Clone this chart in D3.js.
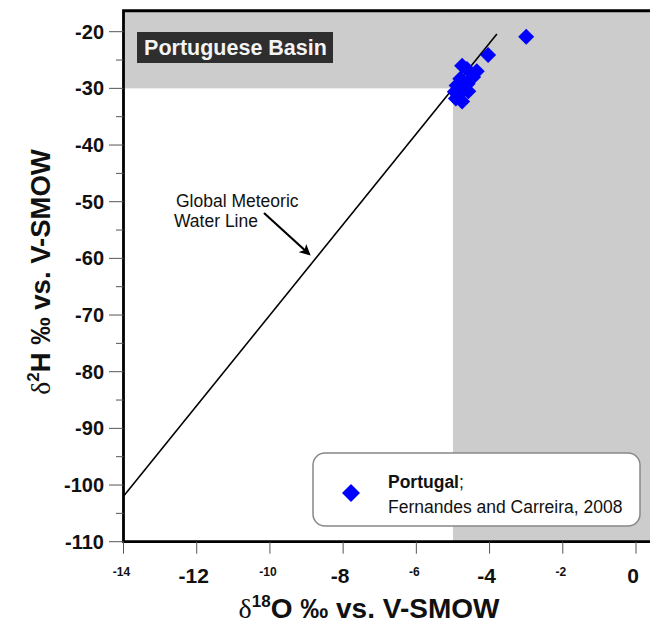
<!DOCTYPE html>
<html>
<head>
<meta charset="utf-8">
<script src="https://cdn.jsdelivr.net/npm/d3@7"></script>
<style>
  html, body { margin: 0; padding: 0; background: #fff; }
  svg { display: block; }
  text { font-family: "Liberation Sans", Arial, sans-serif; }
</style>
</head>
<body>
<svg id="chart" width="650" height="627"></svg>
<script>
// Portuguese Basin groundwater isotopes (Fernandes and Carreira, 2008)
const d18O = [-3.0, -4.04, -4.75, -4.62, -4.35, -4.45, -4.8, -4.6, -4.9, -4.7, -4.95, -4.85, -4.92, -4.75, -4.58];
const d2H  = [-20.9, -24.1, -26.0, -26.6, -27.0, -28.0, -28.3, -29.2, -29.5, -30.0, -30.6, -31.2, -31.8, -32.3, -30.5];

const xTicks = [-14, -12, -10, -8, -6, -4, -2, 0];
const xTickBig = [-12, -8, -4, 0];
const yTicks = [-20, -30, -40, -50, -60, -70, -80, -90, -100, -110];
const yMinor = [-25, -35, -45, -55, -65, -75, -85, -95, -105];

// Global Meteoric Water Line: d2H = 8 * d18O + 10
const gmwlSlope = 8, gmwlIntercept = 10;
const gmwlRange = [-14, -3.8];

// Shaded windows: d2H above -30 and d18O above -5
const shadeH = -30, shadeO = -5;

const svg = d3.select("#chart");
const x = d3.scaleLinear().domain([-14, 0]).range([123.5, 636]);
const y = d3.scaleLinear().domain([-110, -20]).range([541.7, 31.7]);
const xMin = -14, xMax = 1.2, yMin = -110, yMax = -16.3;

const plot = svg.append("g");

// shaded areas
plot.append("rect")
  .attr("x", x(xMin)).attr("y", y(yMax))
  .attr("width", x(xMax) - x(xMin)).attr("height", y(shadeH) - y(yMax))
  .attr("fill", "#cccccc");
plot.append("rect")
  .attr("x", x(shadeO)).attr("y", y(yMax))
  .attr("width", x(xMax) - x(shadeO)).attr("height", y(yMin) - y(yMax))
  .attr("fill", "#cccccc");

// GMWL
plot.append("line")
  .attr("x1", x(gmwlRange[0])).attr("y1", y(gmwlSlope * gmwlRange[0] + gmwlIntercept))
  .attr("x2", x(gmwlRange[1])).attr("y2", y(gmwlSlope * gmwlRange[1] + gmwlIntercept))
  .attr("stroke", "#000").attr("stroke-width", 1.6);

// annotation
const ann = svg.append("g");
ann.append("text").attr("x", 176).attr("y", 207)
  .attr("font-size", 17.5).attr("fill", "#111").text("Global Meteoric");
ann.append("text").attr("x", 174).attr("y", 227)
  .attr("font-size", 17.5).attr("fill", "#111").text("Water Line");
svg.append("defs").append("marker")
  .attr("id", "arrow").attr("viewBox", "0 0 10 10").attr("refX", 8).attr("refY", 5)
  .attr("markerWidth", 5).attr("markerHeight", 5).attr("orient", "auto")
  .append("path").attr("d", "M0,0 L10,5 L0,10 L2.5,5 Z").attr("fill", "#000");
ann.append("line").attr("x1", 264).attr("y1", 213).attr("x2", 309).attr("y2", 254)
  .attr("stroke", "#000").attr("stroke-width", 2.2).attr("marker-end", "url(#arrow)");

// data points
const diamond = s => `M0,${-s}L${s},0L0,${s}L${-s},0Z`;
plot.selectAll(".pt").data(d18O.map((v, i) => [v, d2H[i]])).join("path")
  .attr("class", "pt")
  .attr("d", diamond(8))
  .attr("transform", d => `translate(${x(d[0])},${y(d[1])})`)
  .attr("fill", "#0000ff");

// frame
svg.append("path")
  .attr("d", `M${x(xMax)},${y(yMax)} L${x(xMin)},${y(yMax)} L${x(xMin)},${y(yMin)} L${x(xMax)},${y(yMin)}`)
  .attr("fill", "none").attr("stroke", "#000").attr("stroke-width", 2.8);

// y axis ticks + labels
const yAx = svg.append("g");
yAx.selectAll(".maj").data(yTicks).join("line")
  .attr("x1", 109).attr("x2", x(xMin)).attr("y1", d => y(d)).attr("y2", d => y(d))
  .attr("stroke", "#555").attr("stroke-width", 1);
yAx.selectAll(".min").data(yMinor).join("line")
  .attr("x1", 116).attr("x2", x(xMin)).attr("y1", d => y(d)).attr("y2", d => y(d))
  .attr("stroke", "#555").attr("stroke-width", 1);
yAx.selectAll("text").data(yTicks).join("text")
  .attr("x", 104).attr("y", d => y(d) + 7).attr("text-anchor", "end")
  .attr("font-size", 20).attr("font-weight", "bold").attr("fill", "#111").text(d => d);

// x axis ticks + labels
const xAx = svg.append("g");
xAx.selectAll("line").data(xTicks).join("line")
  .attr("x1", d => x(d)).attr("x2", d => x(d)).attr("y1", y(yMin)).attr("y2", y(yMin) + 12)
  .attr("stroke", "#555").attr("stroke-width", 1);
xAx.selectAll("text").data(xTicks).join("text")
  .attr("x", d => x(d) - (xTickBig.includes(d) ? 3 : 2)).attr("y", d => xTickBig.includes(d) ? 583 : 576)
  .attr("text-anchor", "middle").attr("font-weight", "bold").attr("fill", "#111")
  .attr("font-size", d => xTickBig.includes(d) ? 21 : 12)
  .text(d => d);

// axis titles
const xt = svg.append("text").attr("x", 369).attr("y", 618).attr("text-anchor", "middle")
  .attr("font-size", 28).attr("font-weight", "bold").attr("fill", "#111");
xt.append("tspan").attr("font-family", "Liberation Serif, serif").attr("font-weight", "normal").text("δ");
xt.append("tspan").attr("font-size", 17).attr("dy", -11).text("18");
xt.append("tspan").attr("dy", 11).text("O ‰ vs. V-SMOW");

const yt = svg.append("text").attr("transform", "translate(50,272) rotate(-90)").attr("text-anchor", "middle")
  .attr("font-size", 27.5).attr("font-weight", "bold").attr("fill", "#111");
yt.append("tspan").attr("font-family", "Liberation Serif, serif").attr("font-weight", "normal").text("δ");
yt.append("tspan").attr("font-size", 17).attr("dy", -11).text("2");
yt.append("tspan").attr("dy", 11).text("H ‰ vs. V-SMOW");

// title box
const tb = svg.append("g");
tb.append("rect").attr("x", 137).attr("y", 32).attr("width", 196).attr("height", 31).attr("fill", "#2e2e2e");
tb.append("text").attr("x", 235.5).attr("y", 55).attr("text-anchor", "middle")
  .attr("font-size", 21.5).attr("font-weight", "bold").attr("fill", "#f4f4f4").text("Portuguese Basin");

// legend
const lg = svg.append("g");
lg.append("rect").attr("x", 313).attr("y", 453).attr("width", 327).attr("height", 73)
  .attr("rx", 12).attr("ry", 12).attr("fill", "#fff").attr("stroke", "#888").attr("stroke-width", 1.5);
lg.append("path").attr("d", diamond(9)).attr("transform", "translate(351,493)").attr("fill", "#0000ff");
const l1 = lg.append("text").attr("x", 388).attr("y", 488).attr("font-size", 17.5).attr("fill", "#111");
l1.append("tspan").attr("font-weight", "bold").text("Portugal");
l1.append("tspan").text(";");
lg.append("text").attr("x", 388).attr("y", 513).attr("font-size", 17.5).attr("fill", "#111")
  .text("Fernandes and Carreira, 2008");
</script>
</body>
</html>
